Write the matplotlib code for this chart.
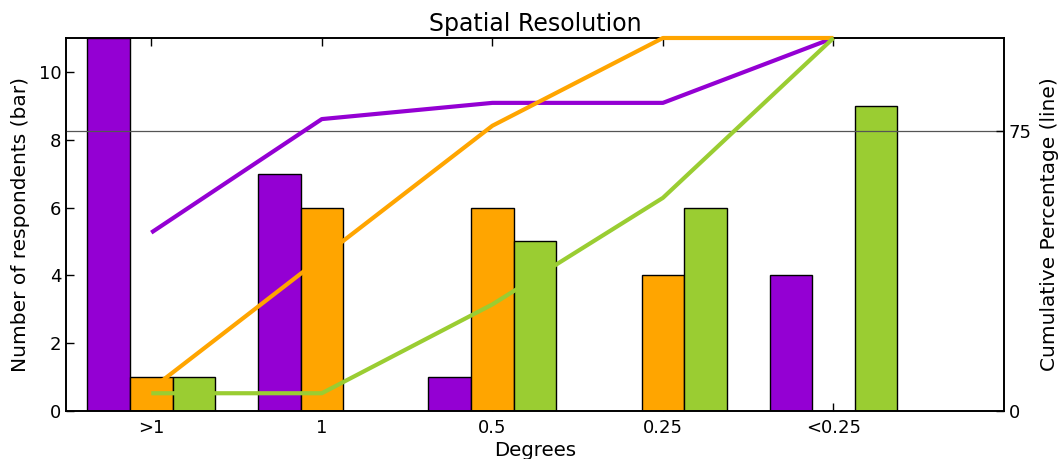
import numpy as np
import matplotlib
matplotlib.use("Agg")
import matplotlib.pyplot as plt

categories = [">1", "1", "0.5", "0.25", "<0.25"]
series_purple = [11, 7, 1, 0, 4]
series_orange = [1, 6, 6, 4, 0]
series_green = [1, 0, 5, 6, 9]
right_ticks = [0, 75]

colors = ["#9400D3", "#FFA500", "#9ACD32"]
series = [series_purple, series_orange, series_green]

plt.rcParams['font.family'] = ['DejaVu Sans']

fig = plt.figure(figsize=(10.61, 4.59), dpi=100)
ax = fig.add_axes([66 / 1061, (459 - 411) / 459, (1004 - 66) / 1061, (411 - 38) / 459])

x = np.arange(len(categories))
width = 0.25
for k, (vals, c) in enumerate(zip(series, colors)):
    ax.bar(x + (k - 1) * width, vals, width, color=c, edgecolor="black", linewidth=1.0, zorder=2)

ax.set_xlim(-0.5, 5.0)
ax.set_ylim(0, 11)
ax.set_yticks([0, 2, 4, 6, 8, 10])
ax.set_xticks(x)
ax.set_xticklabels(categories)
ax.tick_params(axis='both', direction='in', length=6, width=1, labelsize=13)
ax.tick_params(axis='x', top=True, bottom=True, pad=6)
ax.set_ylabel("Number of respondents (bar)", fontsize=14.5, labelpad=6)
ax.set_xlabel("Degrees", fontsize=14.2, labelpad=3)
ax.set_title("Spatial Resolution", fontsize=17, pad=5)

ax2 = ax.twinx()
ax2.set_ylim(0, 100)
ax2.set_yticks(right_ticks)
ax2.grid(axis='y', color='#555555', linestyle='-', linewidth=0.9)
ax2.tick_params(axis='y', direction='in', length=6, width=1, labelsize=13)
for vals, c in zip(series, colors):
    v = np.array(vals, dtype=float)
    cum = np.cumsum(v) / v.sum() * 100
    ax2.plot(x, cum, color=c, linewidth=3, solid_capstyle='butt', clip_on=False, zorder=3)
ax2.set_ylabel("Cumulative Percentage (line)", fontsize=14.5, labelpad=6)

for a in (ax, ax2):
    for s in a.spines.values():
        s.set_linewidth(1.2)

fig.savefig("out.png", dpi=100)
